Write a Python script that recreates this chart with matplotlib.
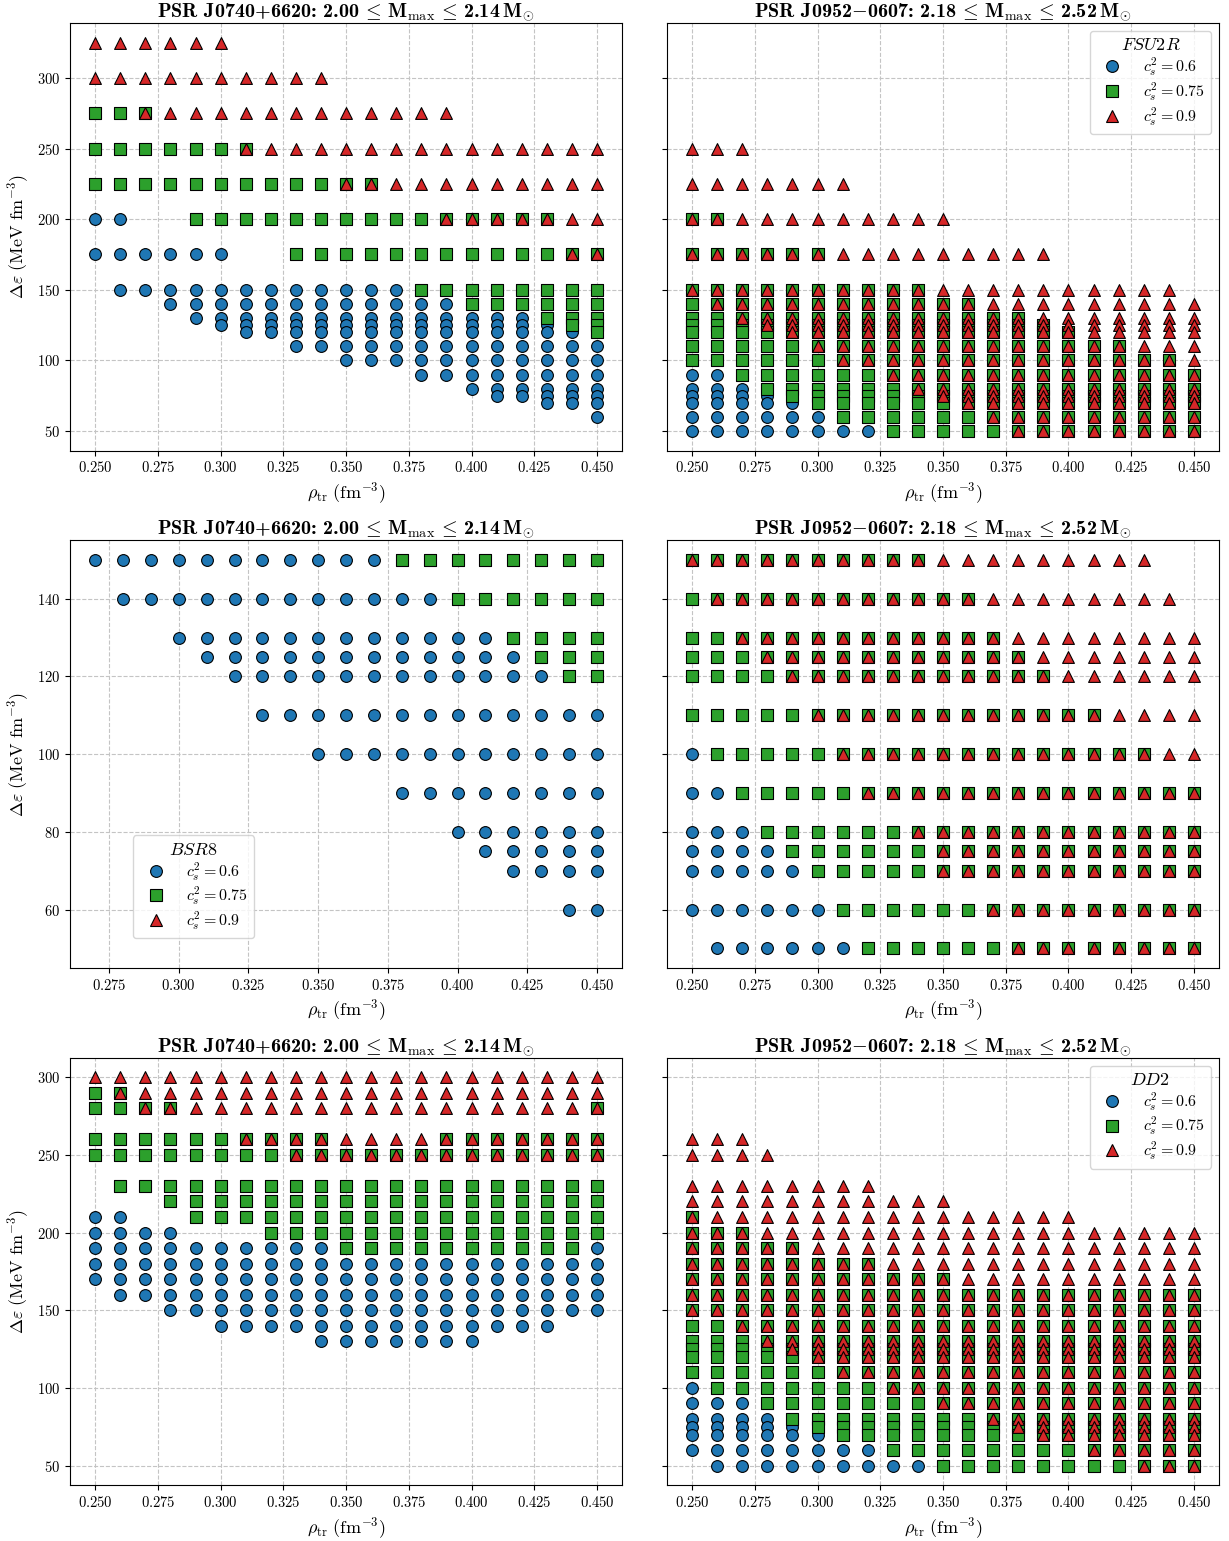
import matplotlib
matplotlib.use("Agg")
import matplotlib.pyplot as plt
from matplotlib.lines import Line2D

plt.rcParams.update({
    "font.family": "serif",
    "font.serif": ["cmr10", "DejaVu Serif"],
    "mathtext.fontset": "cm",
    "axes.formatter.use_mathtext": True,
})

# ---------------------------------------------------------------- data
# transition density grid (fm^-3), one column per value
RHO_TR = [0.25, 0.26, 0.27, 0.28, 0.29, 0.30, 0.31, 0.32, 0.33, 0.34, 0.35,
          0.36, 0.37, 0.38, 0.39, 0.40, 0.41, 0.42, 0.43, 0.44, 0.45]

CS2_LABELS = [r"$c_s^2 = 0.6$", r"$c_s^2 = 0.75$", r"$c_s^2 = 0.9$"]

# Each grid row belongs to one Delta-epsilon value (MeV fm^-3); one char per RHO_TR column:
# 'o' = c_s^2=0.6, 's' = c_s^2=0.75, '^' = c_s^2=0.9, 'x' = 0.75 and 0.9, '.' = none

# --- PSR J0740+6620, FSU2R
J0740_FSU2R_DE = [325, 300, 275, 250, 225, 200, 175, 150, 140, 130, 125, 120,
                  110, 100, 90, 80, 75, 70, 60]
J0740_FSU2R_GRID = [
    "^^^^^" "^...." "....." "....." ".",
    "^^^^^" "^^^^^" "....." "....." ".",
    "ssx^^" "^^^^^" "^^^^^" "....." ".",
    "sssss" "sx^^^" "^^^^^" "^^^^^" "^",
    "sssss" "sssss" "xx^^^" "^^^^^" "^",
    "oo..s" "sssss" "ssssx" "xxxx^" "^",
    "ooooo" "o..ss" "sssss" "ssssx" "x",
    ".oooo" "ooooo" "oooss" "sssss" "s",
    "...oo" "ooooo" "ooooo" "sssss" "s",
    "....o" "ooooo" "ooooo" "oooss" "s",
    "....." "ooooo" "ooooo" "oooos" "s",
    "....." ".oooo" "ooooo" "ooooo" "s",
    "....." "...oo" "ooooo" "ooooo" "o",
    "....." "....." "ooooo" "ooooo" "o",
    "....." "....." "...oo" "ooooo" "o",
    "....." "....." "....." "ooooo" "o",
    "....." "....." "....." ".oooo" "o",
    "....." "....." "....." "...oo" "o",
    "....." "....." "....." "....." "o",
]

# --- PSR J0952-0607, FSU2R
J0952_FSU2R_DE = [250, 225, 200, 175, 150, 140, 130, 125, 120, 110, 100, 90,
                  80, 75, 70, 60, 50]
J0952_FSU2R_GRID = [
    "^^^.." "....." "....." "....." ".",
    "^^^^^" "^^..." "....." "....." ".",
    "xx^^^" "^^^^^" "^...." "....." ".",
    "xxxxx" "x^^^^" "^^^^^" "....." ".",
    "xxxxx" "xxxxx" "^^^^^" "^^^^^" ".",
    "sxxxx" "xxxxx" "xx^^^" "^^^^^" "^",
    "ssxxx" "xxxxx" "xxxx^" "^^^^^" "^",
    "sssxx" "xxxxx" "xxxxx" "^^^^^" "^",
    "ssssx" "xxxxx" "xxxxx" "x^^^^" "^",
    "sssss" "xxxxx" "xxxxx" "xxx^^" "^",
    "sssss" "sxxxx" "xxxxx" "xxxxx" "^",
    "oosss" "sssxx" "xxxxx" "xxxxx" "x",
    "oooss" "ssssx" "xxxxx" "xxxxx" "x",
    "oooos" "sssss" "xxxxx" "xxxxx" "x",
    "ooooo" "sssss" "sxxxx" "xxxxx" "x",
    "ooooo" "ossss" "ssxxx" "xxxxx" "x",
    "ooooo" "oooss" "sssxx" "xxxxx" "x",
]

# --- PSR J0740+6620, BSR8
J0740_BSR8_DE = [150, 140, 130, 125, 120, 110, 100, 90, 80, 75, 70, 60]
J0740_BSR8_GRID = [
    "..ooo" "ooooo" "oooss" "sssss" "s",
    "...oo" "ooooo" "ooooo" "sssss" "s",
    "....." "ooooo" "ooooo" "oosss" "s",
    "....." ".oooo" "ooooo" "oooss" "s",
    "....." "..ooo" "ooooo" "oooos" "s",
    "....." "...oo" "ooooo" "ooooo" "o",
    "....." "....." "ooooo" "ooooo" "o",
    "....." "....." "...oo" "ooooo" "o",
    "....." "....." "....." "ooooo" "o",
    "....." "....." "....." ".oooo" "o",
    "....." "....." "....." "..ooo" "o",
    "....." "....." "....." "....o" "o",
]

# --- PSR J0952-0607, BSR8
J0952_BSR8_DE = [150, 140, 130, 125, 120, 110, 100, 90, 80, 75, 70, 60, 50]
J0952_BSR8_GRID = [
    "xxxxx" "xxxxx" "^^^^^" "^^^^." ".",
    "sxxxx" "xxxxx" "xx^^^" "^^^^^" ".",
    "ssxxx" "xxxxx" "xxx^^" "^^^^^" "^",
    "sssxx" "xxxxx" "xxxx^" "^^^^^" "^",
    "ssssx" "xxxxx" "xxxxx" "^^^^^" "^",
    "sssss" "xxxxx" "xxxxx" "xx^^^" "^",
    "ossss" "sxxxx" "xxxxx" "xxxx^" "^",
    "oosss" "ssxxx" "xxxxx" "xxxxx" "x",
    "oooss" "ssssx" "xxxxx" "xxxxx" "x",
    "oooos" "sssss" "xxxxx" "xxxxx" "x",
    "ooooo" "sssss" "xxxxx" "xxxxx" "x",
    "ooooo" "ossss" "ssxxx" "xxxxx" "x",
    ".oooo" "oosss" "sssxx" "xxxxx" "x",
]

# --- PSR J0740+6620, DD2
J0740_DD2_DE = [300, 290, 280, 260, 250, 230, 220, 210, 200, 190, 180, 170,
                160, 150, 140, 130]
J0740_DD2_GRID = [
    "^^^^^" "^^^^^" "^^^^^" "^^^^^" "^",
    "sx^^^" "^^^^^" "^^^^^" "^^^^^" "^",
    "ssxx^" "^^^^^" "^^^^^" "^^^^^" "x",
    "sssss" "sxxxx" "^^^^x" "xxxxx" "x",
    "sssss" "sssxx" "xxxxx" "xxxxx" "x",
    ".ssss" "sssss" "sssss" "sssss" "s",
    "...ss" "sssss" "sssss" "sssss" "s",
    "oo..s" "sssss" "sssss" "sssss" "s",
    "oooo." "..sss" "sssss" "sssss" "s",
    "ooooo" "ooooo" "sssss" "sssss" "o",
    "ooooo" "ooooo" "ooooo" "ooooo" "o",
    "ooooo" "ooooo" "ooooo" "ooooo" "o",
    ".oooo" "ooooo" "ooooo" "ooooo" "o",
    "...oo" "ooooo" "ooooo" "ooooo" "o",
    "....." "ooooo" "ooooo" "oooo." ".",
    "....." "....o" "ooooo" "o...." ".",
]

# --- PSR J0952-0607, DD2
J0952_DD2_DE = [260, 250, 230, 220, 210, 200, 190, 180, 170, 160, 150, 140,
                130, 125, 120, 110, 100, 90, 80, 75, 70, 60, 50]
J0952_DD2_GRID = [
    "^^^.." "....." "....." "....." ".",
    "^^^^." "....." "....." "....." ".",
    "^^^^^" "^^^.." "....." "....." ".",
    "^^^^^" "^^^^^" "^...." "....." ".",
    "x^^^^" "^^^^^" "^^^^^" "^...." ".",
    "xxx^^" "^^^^^" "^^^^^" "^^^^^" "^",
    "xxxxx" "^^^^^" "^^^^^" "^^^^^" "^",
    "xxxxx" "xxx^^" "^^^^^" "^^^^^" "^",
    "xxxxx" "xxxxx" "x^^^^" "^^^^^" "^",
    "xxxxx" "xxxxx" "xxxxx" "xxxxx" "x",
    "xxxxx" "xxxxx" "xxxxx" "xxxxx" "x",
    "ssxxx" "xxxxx" "xxxxx" "xxxxx" "x",
    "sssxx" "xxxxx" "xxxxx" "xxxxx" "x",
    "ssssx" "xxxxx" "xxxxx" "xxxxx" "x",
    "sssss" "xxxxx" "xxxxx" "xxxxx" "x",
    "sssss" "sxxxx" "xxxxx" "xxxxx" "x",
    "ossss" "sssxx" "xxxxx" "xxxxx" "x",
    "oooss" "sssss" "xxxxx" "xxxxx" "x",
    "oooos" "sssss" "ssxxx" "xxxxx" "x",
    "ooooo" "sssss" "sssxx" "xxxxx" "x",
    "ooooo" "ossss" "ssssx" "xxxxx" "x",
    "ooooo" "oooss" "sssss" "sxxxx" "x",
    ".oooo" "ooooo" "sssss" "sssxx" "x",
]

TITLE_J0740 = (r"PSR J0740+6620: 2.00$\,\leq\,$M$_{\rm max}$"
               r"$\,\leq\,$2.14$\,$M$_{\odot}$")
TITLE_J0952 = (r"PSR J0952$-$0607: 2.18$\,\leq\,$M$_{\rm max}$"
               r"$\,\leq\,$2.52$\,$M$_{\odot}$")

# ---------------------------------------------------------------- styling
COLORS = ["#1f77b4", "#2ca02c", "#d62728"]
MARKERS = ["o", "s", "^"]
MSIZE = 72


def split_series(de_levels, grid):
    for i, row in enumerate(grid):
        if len(row) != len(RHO_TR):
            raise ValueError(f"row {i} ({de_levels[i]}) has length {len(row)}")
    out = {"o": ([], []), "s": ([], []), "^": ([], [])}
    for de, row in zip(de_levels, grid):
        for rho, code in zip(RHO_TR, row):
            if code == "o":
                out["o"][0].append(rho); out["o"][1].append(de)
            if code in "sx":
                out["s"][0].append(rho); out["s"][1].append(de)
            if code in "^x":
                out["^"][0].append(rho); out["^"][1].append(de)
    return out


def draw(ax, de_levels, grid, title):
    data = split_series(de_levels, grid)
    for key, col, lab in zip(MARKERS, COLORS, CS2_LABELS):
        xs, ys = data[key]
        if xs:
            ax.scatter(xs, ys, s=MSIZE, marker=key, c=col, edgecolors="black",
                       linewidths=0.8, zorder=3, label=lab)
    ax.annotate(title, xy=(0.5, 1.0), xycoords="axes fraction",
                xytext=(0, 4.5), textcoords="offset points",
                ha="center", va="baseline", fontsize=14.5, fontfamily="cmb10")
    ax.set_xlabel(r"$\rho_{\rm tr}\ (\rm fm^{-3})$", fontsize=13)
    ax.grid(True, linestyle="--", color="#c4c4c4", linewidth=0.8)
    ax.set_axisbelow(True)
    ax.tick_params(labelsize=10.5)


def legend(ax, name, **kw):
    handles = [Line2D([], [], linestyle="", marker=m, markersize=MSIZE ** 0.5,
                      markerfacecolor=c, markeredgecolor="black",
                      markeredgewidth=0.8)
               for m, c in zip(MARKERS, COLORS)]
    ax.legend(handles, CS2_LABELS, title=name, fontsize=11.5,
              title_fontsize=13, handletextpad=0.9, labelspacing=0.14, **kw)


fig, axes = plt.subplots(3, 2, figsize=(12.29, 15.41), dpi=100, sharey="row")
fig.subplots_adjust(left=0.0570, right=0.9919, top=0.9850, bottom=0.0363,
                    wspace=0.0815, hspace=0.2103)

draw(axes[0, 0], J0740_FSU2R_DE, J0740_FSU2R_GRID, TITLE_J0740)
draw(axes[0, 1], J0952_FSU2R_DE, J0952_FSU2R_GRID, TITLE_J0952)
draw(axes[1, 0], J0740_BSR8_DE, J0740_BSR8_GRID, TITLE_J0740)
draw(axes[1, 1], J0952_BSR8_DE, J0952_BSR8_GRID, TITLE_J0952)
draw(axes[2, 0], J0740_DD2_DE, J0740_DD2_GRID, TITLE_J0740)
draw(axes[2, 1], J0952_DD2_DE, J0952_DD2_GRID, TITLE_J0952)

for r in range(3):
    axes[r, 0].set_ylabel(r"$\Delta\varepsilon\ (\rm MeV\ fm^{-3})$", fontsize=13)

legend(axes[0, 1], r"$FSU2R$", loc="upper right")
legend(axes[1, 0], r"$BSR8$", loc="lower left", bbox_to_anchor=(0.1, 0.05))
legend(axes[2, 1], r"$DD2$", loc="upper right")

fig.savefig("out.png", dpi=100)
